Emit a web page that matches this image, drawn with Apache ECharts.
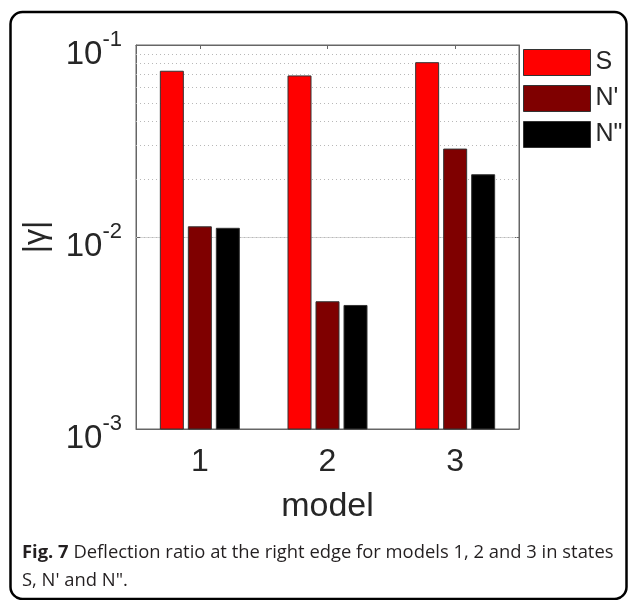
<!DOCTYPE html>
<html>
<head>
<meta charset="utf-8">
<script src="https://cdn.jsdelivr.net/npm/echarts@6/dist/echarts.min.js"></script>
<style>
html,body{margin:0;padding:0;background:#fff;}
#c{width:629px;height:600px;}
</style>
</head>
<body>
<div id="c"></div>
<script>
var categories = ['1', '2', '3'];
var seriesNames = ['S', "N'", 'N"'];
var valuesS = [0.0730, 0.0690, 0.0809];
var valuesN1 = [0.0113, 0.0046, 0.0287];
var valuesN2 = [0.0111, 0.0044, 0.0211];
var minorGridValues = [0.002, 0.003, 0.004, 0.005, 0.006, 0.007, 0.008, 0.009,
                       0.02, 0.03, 0.04, 0.05, 0.06, 0.07, 0.08, 0.09];
var yMin = 0.001, yMax = 0.1;
var captionBold = 'Fig. 7';
var captionLine1 = ' Deflection ratio at the right edge for models 1, 2 and 3 in states';
var captionLine2 = 'S, N\' and N".';

var colors = ['#ff0000', '#7f0000', '#000000'];
var FONT = 'Liberation Sans';
var TXT = '#262626';
var BAR_W = 23, BAR_STEP = 28;
var TICK_LEN = 0.03; // in category-band units

var chart = echarts.init(document.getElementById('c'), null, {renderer: 'canvas'});

function expLabel(v) {
  var e = Math.round(Math.log10(v));
  return '{b|10}{s|' + (e < 0 ? '-' + (-e) : e) + '}';
}

function minorTickPairs() {
  var left = -0.5, right = categories.length - 0.5;
  var out = [];
  minorGridValues.forEach(function (v) {
    out.push([{coord: [left, v]}, {coord: [left + TICK_LEN, v]}]);
    out.push([{coord: [right, v]}, {coord: [right - TICK_LEN, v]}]);
  });
  return out;
}

function barSeries(name, values, color, slot) {
  return {
    name: name,
    type: 'custom',
    coordinateSystem: 'cartesian2d',
    xAxisIndex: 0,
    yAxisIndex: 0,
    data: values.map(function (v, i) { return [i, v]; }),
    encode: {x: 0, y: 1},
    itemStyle: {color: color, borderColor: '#333', borderWidth: 1},
    renderItem: function (params, api) {
      var ci = api.value(0), v = api.value(1);
      var top = api.coord([ci, v]);
      var base = api.coord([ci, yMin]);
      return {
        type: 'rect',
        shape: {x: top[0] + slot * BAR_STEP - BAR_W / 2, y: top[1], width: BAR_W, height: base[1] - top[1]},
        style: {fill: color, stroke: '#333', lineWidth: 1}
      };
    },
    emphasis: {disabled: true},
    z: 3
  };
}

var sS = barSeries(seriesNames[0], valuesS, colors[0], -1);
sS.markLine = {
  silent: true,
  symbol: 'none',
  label: {show: false},
  lineStyle: {type: [1, 3], color: '#b8b8b8', width: 1},
  emphasis: {disabled: true},
  data: minorGridValues.map(function (v) { return {yAxis: v}; }),
  z: 1
};
var sN1 = barSeries(seriesNames[1], valuesN1, colors[1], 0);
sN1.markLine = {
  silent: true,
  symbol: 'none',
  label: {show: false},
  lineStyle: {type: 'solid', color: '#666', width: 1},
  emphasis: {disabled: true},
  data: minorTickPairs(),
  z: 4
};
var sN2 = barSeries(seriesNames[2], valuesN2, colors[2], 1);

var option = {
  animation: false,
  backgroundColor: '#fff',
  title: {
    left: 22,
    top: 539,
    padding: 0,
    text: '{b|' + captionBold + '}' + captionLine1 + '\n' + captionLine2,
    textStyle: {
      fontFamily: 'Open Sans',
      fontSize: 18.4,
      fontWeight: 'normal',
      color: '#231f20',
      lineHeight: 28,
      rich: {
        b: {fontFamily: 'Open Sans', fontSize: 18.4, fontWeight: 'bold', color: '#231f20', lineHeight: 28}
      }
    }
  },
  graphic: [{
    type: 'rect',
    shape: {x: 10.5, y: 12, width: 616, height: 587, r: 12},
    style: {fill: 'none', stroke: '#000', lineWidth: 2.5},
    silent: true,
    z: -10
  }],
  legend: {
    orient: 'vertical',
    left: 523,
    top: 49,
    padding: 0,
    itemWidth: 67,
    itemHeight: 26,
    itemGap: 9,
    icon: 'rect',
    data: seriesNames,
    itemStyle: {borderColor: '#333', borderWidth: 1},
    textStyle: {fontFamily: FONT, fontSize: 25, color: TXT}
  },
  grid: {
    left: 136,
    top: 45,
    right: 110,
    bottom: 171,
    show: true,
    borderColor: '#666',
    borderWidth: 1,
    backgroundColor: '#fff'
  },
  xAxis: [{
    type: 'category',
    data: categories,
    position: 'bottom',
    axisLine: {show: true, lineStyle: {color: '#666', width: 1}},
    axisTick: {show: true, inside: true, alignWithLabel: true, length: 4, lineStyle: {color: '#666'}},
    axisLabel: {fontFamily: FONT, fontSize: 32, color: TXT, margin: 17},
    splitLine: {show: false},
    name: 'model',
    nameLocation: 'middle',
    nameGap: 61,
    nameTextStyle: {fontFamily: FONT, fontSize: 34, color: TXT}
  }, {
    type: 'category',
    data: categories,
    position: 'top',
    axisLine: {show: true, lineStyle: {color: '#666', width: 1}},
    axisTick: {show: true, inside: true, alignWithLabel: true, length: 4, lineStyle: {color: '#666'}},
    axisLabel: {show: false},
    splitLine: {show: false}
  }],
  yAxis: [{
    type: 'log',
    logBase: 10,
    min: yMin,
    max: yMax,
    position: 'left',
    axisLine: {show: true, lineStyle: {color: '#666', width: 1}},
    axisTick: {show: true, inside: true, length: 4, lineStyle: {color: '#666'}},
    splitLine: {show: true, lineStyle: {color: '#d6d6d6', width: 1, type: 'solid'}},
    axisLabel: {
      formatter: expLabel,
      margin: 14,
      color: TXT,
      padding: [10, 0, 0, 0],
      rich: {
        b: {fontFamily: FONT, fontSize: 33, color: TXT, lineHeight: 42, verticalAlign: 'bottom'},
        s: {fontFamily: FONT, fontSize: 22, color: TXT, lineHeight: 22, verticalAlign: 'top'}
      }
    },
    name: '|\u03b3|',
    nameLocation: 'middle',
    nameGap: 84,
    nameRotate: 90,
    nameTextStyle: {fontFamily: FONT, fontSize: 32, color: TXT}
  }, {
    type: 'log',
    logBase: 10,
    min: yMin,
    max: yMax,
    position: 'right',
    axisLine: {show: true, lineStyle: {color: '#666', width: 1}},
    axisTick: {show: true, inside: true, length: 4, lineStyle: {color: '#666'}},
    axisLabel: {show: false},
    splitLine: {show: false}
  }],
  series: [sS, sN1, sN2]
};
chart.setOption(option);
</script>
</body>
</html>
